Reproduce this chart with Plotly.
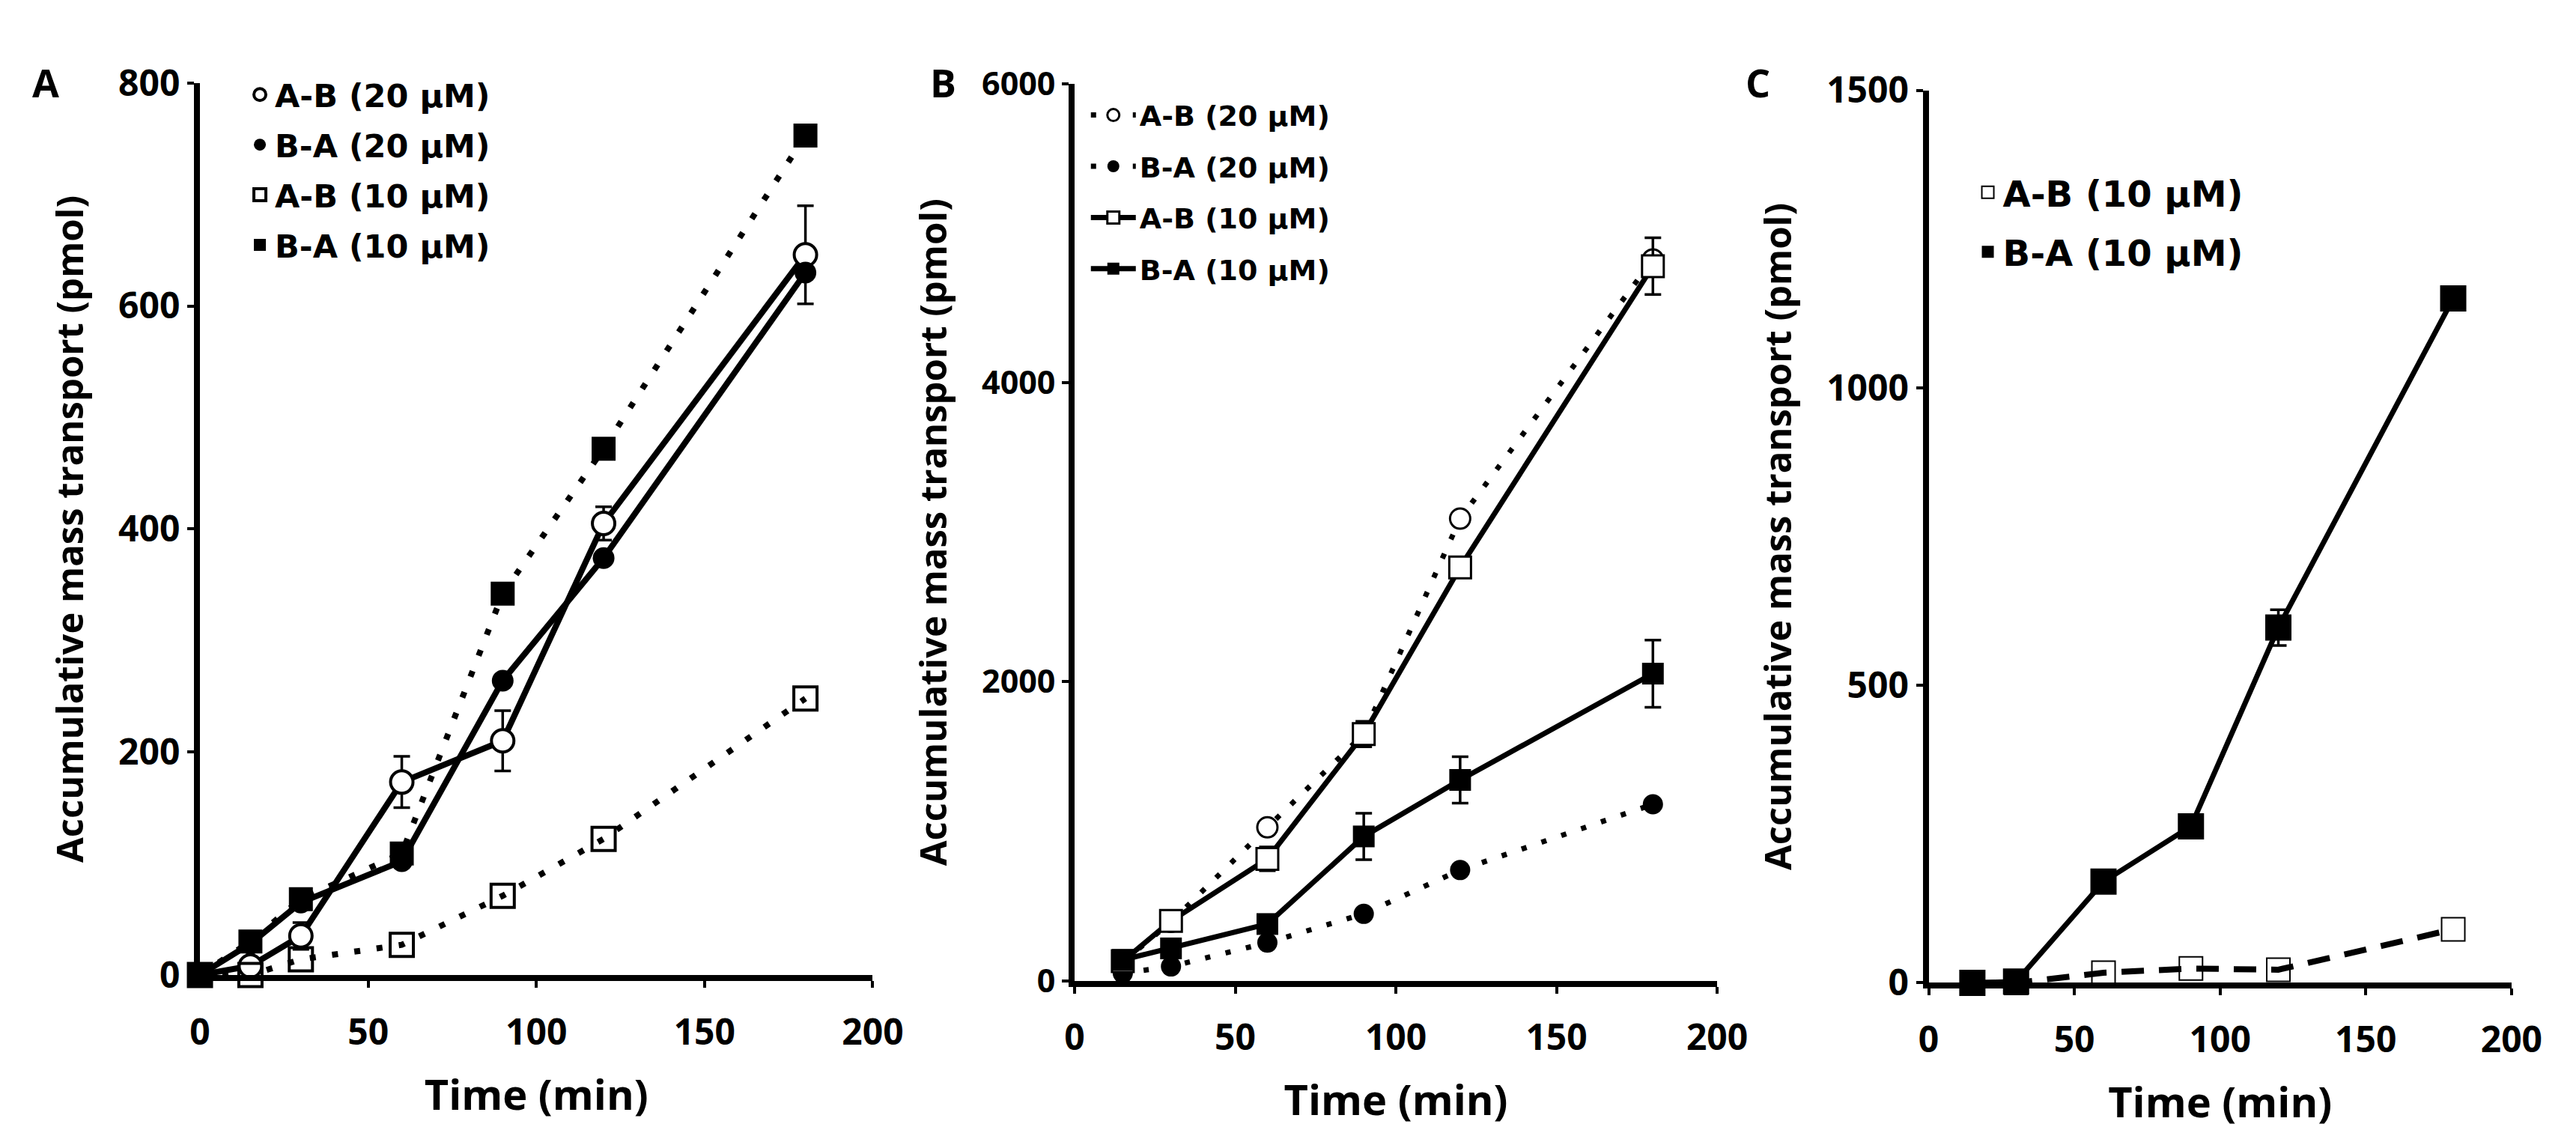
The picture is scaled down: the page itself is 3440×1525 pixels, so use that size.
import plotly.graph_objects as go

# ---------------- data ----------------
time_A = [0, 15, 30, 60, 90, 120, 180]
A_AB20 = [0, 8, 35, 173, 210, 405, 646]
A_AB20_err = [0, 3, 12, 23, 27, 15, 44]
A_BA20 = [0, 28, 65, 102, 264, 374, 630]
A_AB10 = [0, 0, 14, 27, 71, 122, 248]
A_BA10 = [0, 30, 68, 109, 342, 472, 753]

time_B = [15, 30, 60, 90, 120, 180]
B_AB20 = [125, 393, 1026, 1650, 3091, 4825]
B_BA20 = [50, 95, 254, 447, 740, 1180]
B_AB10 = [130, 400, 815, 1650, 2765, 4780]
B_AB10_err = [0, 0, 80, 85, 0, 190]
B_BA10 = [139, 216, 379, 965, 1343, 2054]
B_BA10_err = [0, 0, 0, 155, 155, 225]

time_C = [15, 30, 60, 90, 120, 180]
C_AB10 = [0, 0, 17, 24, 22, 90]
C_BA10 = [0, 2, 170, 263, 597, 1150]
C_BA10_err = [0, 0, 0, 0, 30, 12]

names = ["A-B (20 μM)", "B-A (20 μM)", "A-B (10 μM)", "B-A (10 μM)"]
x_ticks = [0, 50, 100, 150, 200]
yA_ticks = [0, 200, 400, 600, 800]
yB_ticks = [0, 2000, 4000, 6000]
yC_ticks = [0, 500, 1000, 1500]

W, H = 3440, 1525
K = "black"
DOT_A = "8px,22px"
DOT_B = "7px,21px"
DASH_C = "30px,20px"

fig = go.Figure()


def err(arr, width=11):
    return dict(type="data", array=arr, visible=True, color=K, thickness=3.5, width=width)


# ---------- Panel A : lines (no legend) + markers (legend) ----------
lineA = [
    (A_AB20, "solid", 8),
    (A_BA20, "solid", 8),
    (A_AB10, DOT_A, 8),
    (A_BA10, DOT_A, 8),
]
for i, (ys, dash, lw) in enumerate(lineA):
    fig.add_trace(go.Scatter(
        x=time_A, y=ys, mode="lines", line=dict(color=K, width=lw, dash=dash),
        xaxis="x", yaxis="y", showlegend=False, legendgroup=f"a{i}", hoverinfo="skip",
        cliponaxis=False))

markA = [
    (A_AB20, dict(symbol="circle", size=30, color="white", line=dict(color=K, width=4)), A_AB20_err),
    (A_BA20, dict(symbol="circle", size=29, color=K, line=dict(color=K, width=0)), None),
    (A_AB10, dict(symbol="square-open", size=31, color=K, line=dict(color=K, width=4)), None),
    (A_BA10, dict(symbol="square", size=32, color=K, line=dict(color=K, width=0)), None),
]
for i, (ys, mk, e) in enumerate(markA):
    fig.add_trace(go.Scatter(
        x=time_A, y=ys, mode="markers", marker=mk, name=names[i],
        error_y=err(e) if e else None,
        xaxis="x", yaxis="y", legend="legend", legendgroup=f"a{i}", cliponaxis=False))

# ---------- Panel B ----------
serB = [
    (B_AB20, DOT_B, dict(symbol="circle", size=27, color="white", line=dict(color=K, width=3)), None),
    (B_BA20, DOT_B, dict(symbol="circle", size=27, color=K, line=dict(color=K, width=0)), None),
    (B_AB10, "solid", dict(symbol="square", size=29, color="white", line=dict(color=K, width=3)), B_AB10_err),
    (B_BA10, "solid", dict(symbol="square", size=29, color=K, line=dict(color=K, width=0)), B_BA10_err),
]
for i, (ys, dash, mk, e) in enumerate(serB):
    fig.add_trace(go.Scatter(
        x=time_B, y=ys, mode="lines+markers", line=dict(color=K, width=7, dash=dash),
        marker=mk, name=names[i], error_y=err(e) if e else None,
        xaxis="x2", yaxis="y2", legend="legend2", legendgroup=f"b{i}", cliponaxis=False))

# ---------- Panel C ----------
fig.add_trace(go.Scatter(
    x=time_C, y=C_AB10, mode="lines", line=dict(color=K, width=8, dash=DASH_C),
    xaxis="x3", yaxis="y3", showlegend=False, legendgroup="c0", hoverinfo="skip", cliponaxis=False))
fig.add_trace(go.Scatter(
    x=time_C, y=C_BA10, mode="lines", line=dict(color=K, width=7),
    xaxis="x3", yaxis="y3", showlegend=False, legendgroup="c1", hoverinfo="skip", cliponaxis=False))
fig.add_trace(go.Scatter(
    x=time_C, y=C_AB10, mode="markers", name=names[2],
    marker=dict(symbol="square-open", size=31, color=K, line=dict(color=K, width=2)),
    xaxis="x3", yaxis="y3", legend="legend3", legendgroup="c0", cliponaxis=False))
fig.add_trace(go.Scatter(
    x=time_C, y=C_BA10, mode="markers", name=names[3],
    marker=dict(symbol="square", size=35, color=K, line=dict(width=0)),
    error_y=err(C_BA10_err),
    xaxis="x3", yaxis="y3", legend="legend3", legendgroup="c1", cliponaxis=False))


# ---------------- axes ----------------
def px_x(p):
    return p / W


def px_y(p):
    return 1 - p / H


title_font = dict(family="Open Sans", size=56, color=K, weight="bold")
ytitle_font = dict(family="Open Sans", size=49, color=K, weight="bold")


def xax(dom, anchor):
    return dict(domain=dom, anchor=anchor, range=[0, 200], tickvals=x_ticks,
                showline=True, linecolor=K, linewidth=8, ticks="outside", ticklen=9,
                tickwidth=4, tickcolor=K, showgrid=False, zeroline=False,
                tickfont=dict(family="Open Sans", size=48, color=K, weight="bold"),
                ticklabelstandoff=18,
                title=dict(text="Time (min)", font=title_font, standoff=38))


def yax(dom, anchor, rng, tv, fs):
    return dict(domain=dom, anchor=anchor, range=rng, tickvals=tv,
                showline=True, linecolor=K, linewidth=8, ticks="outside", ticklen=9,
                tickwidth=4, tickcolor=K, showgrid=False, zeroline=False,
                tickfont=dict(family="Open Sans", size=fs, color=K, weight="bold"),
                title=dict(text="Accumulative mass transport (pmol)", font=ytitle_font, standoff=34))


leg_common = dict(bgcolor="rgba(0,0,0,0)", borderwidth=0, xanchor="left", yanchor="top",
                  traceorder="grouped", itemsizing="trace")

fig.update_layout(
    width=W, height=H, autosize=False,
    margin=dict(l=0, r=0, t=0, b=0),
    paper_bgcolor="white", plot_bgcolor="white",
    font=dict(family="Open Sans", color=K),
    xaxis=xax([px_x(249), px_x(1162)], "y"),
    yaxis=yax([px_y(1316), px_y(72)], "x", [0, 800], yA_ticks, 48),
    xaxis2=xax([px_x(1436), px_x(2308)], "y2"),
    yaxis2=yax([px_y(1324), px_y(73)], "x2", [0, 6000], yB_ticks, 43),
    xaxis3=xax([px_x(2595), px_x(3386)], "y3"),
    yaxis3=yax([px_y(1327), px_y(82)], "x3", [0, 1500], yC_ticks, 48),
    legend=dict(x=px_x(310), y=px_y(52), font=dict(family="DejaVu Sans", size=43, color=K, weight="bold"),
                tracegroupgap=8, **leg_common),
    legend2=dict(x=px_x(1453), y=px_y(84), font=dict(family="DejaVu Sans", size=38, color=K, weight="bold"),
                 tracegroupgap=16, itemwidth=60, **leg_common),
    legend3=dict(x=px_x(2655), y=px_y(185), font=dict(family="DejaVu Sans", size=48, color=K, weight="bold"),
                 tracegroupgap=14, **leg_common),
    annotations=[
        dict(text=t, x=px_x(xc), y=px_y(70), xref="paper", yref="paper", showarrow=False,
             xanchor="center", yanchor="middle",
             font=dict(family="Open Sans", size=52, color=K, weight="bold"))
        for t, xc in [("A", 40), ("B", 1258), ("C", 2363)]
    ],
)

fig.write_html("out.html")
